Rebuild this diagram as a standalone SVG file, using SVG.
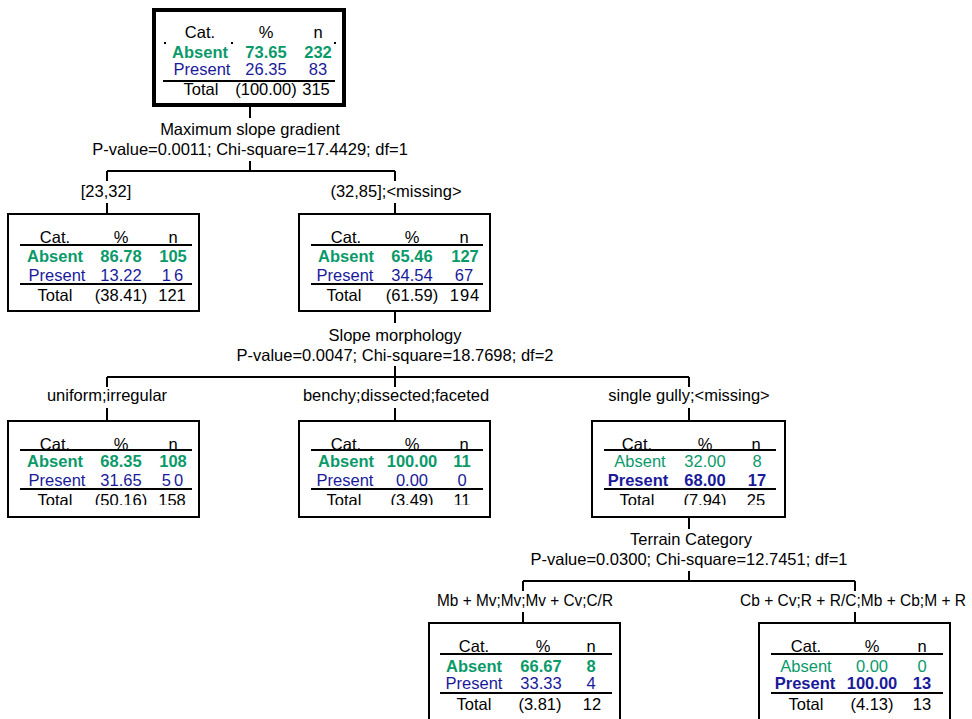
<svg xmlns="http://www.w3.org/2000/svg" width="972" height="719" viewBox="0 0 972 719">
<style>
text { font-family: "Liberation Sans", Arial, sans-serif; font-size: 16.5px; fill: #000; text-anchor: middle; }
.g { fill: #0a9a6a; }
.bl { fill: #1a1a9a; }
.bd { font-weight: bold; }
.box { fill: #fff; stroke: #000; stroke-width: 2; }
.root { fill: #fff; stroke: #000; stroke-width: 4; }
.rule { stroke: #000; stroke-width: 2; }
.conn path { stroke: #000; stroke-width: 2; fill: none; }
</style>
<defs>
<clipPath id="ch3"><rect x="0" y="400" width="972" height="50"/></clipPath>
<clipPath id="ct3"><rect x="0" y="480" width="972" height="25"/></clipPath>
</defs>
<rect width="972" height="719" fill="#fff"/>

<g id="connectors" class="conn">
<path d="M250,107 V118"/>
<path d="M250,161 V171 M107,171 H395 M107,171 V181 M395,171 V181 M107,203 V214 M395,203 V214"/>
<path d="M395,312 V323"/>
<path d="M395,366 V377 M107,377 H689 M107,377 V387 M395,377 V387 M689,377 V387 M107,408 V421 M395,408 V421 M689,408 V421"/>
<path d="M689,518 V529"/>
<path d="M689,571 V581 M523,581 H855 M523,581 V591 M855,581 V591 M523,612 V623 M855,612 V623"/>
</g>

<g id="labels">
<text x="250" y="135">Maximum slope gradient</text>
<text x="250" y="155">P-value=0.0011; Chi-square=17.4429; df=1</text>
<text x="106" y="197">[23,32]</text>
<text x="396" y="197">(32,85];&lt;missing&gt;</text>
<text x="395" y="341">Slope morphology</text>
<text x="395" y="361">P-value=0.0047; Chi-square=18.7698; df=2</text>
<text x="107" y="401">uniform;irregular</text>
<text x="396" y="401">benchy;dissected;faceted</text>
<text x="689" y="401">single gully;&lt;missing&gt;</text>
<text x="691" y="545">Terrain Category</text>
<text x="689" y="565">P-value=0.0300; Chi-square=12.7451; df=1</text>
<text x="525" y="606" textLength="176" lengthAdjust="spacingAndGlyphs">Mb + Mv;Mv;Mv + Cv;C/R</text>
<text x="853" y="606" textLength="226" lengthAdjust="spacingAndGlyphs">Cb + Cv;R + R/C;Mb + Cb;M + R</text>
</g>

<g id="node0">
<rect class="root" x="154" y="10" width="190" height="95"/>
<text x="200" y="38">Cat.</text><text x="266" y="38">%</text><text x="318" y="38">n</text>
<rect x="164" y="42" width="2" height="2"/><rect x="231" y="42" width="2" height="2"/><rect x="334" y="42" width="2" height="2"/>
<text class="g bd" x="200" y="58">Absent</text><text class="g bd" x="266" y="58">73.65</text><text class="g bd" x="318" y="58">232</text>
<text class="bl" x="202" y="75">Present</text><text class="bl" x="266" y="75">26.35</text><text class="bl" x="318" y="75">83</text>
<line class="rule" x1="163" y1="81" x2="335" y2="81"/>
<text x="201" y="95">Total</text><text x="266" y="95">(100.00)</text><text x="316" y="95">315</text>
</g>

<g id="node1">
<rect class="box" x="8" y="214" width="191" height="97"/>
<text x="55" y="243">Cat.</text><text x="121" y="243">%</text><text x="173" y="243">n</text>
<line class="rule" x1="20" y1="245" x2="192" y2="245"/>
<text class="g bd" x="55" y="262">Absent</text><text class="g bd" x="121" y="262">86.78</text><text class="g bd" x="173" y="262">105</text>
<text class="bl" x="57" y="281">Present</text><text class="bl" x="121" y="281">13.22</text><text class="bl" x="174" y="281" letter-spacing="3">16</text>
<line class="rule" x1="20" y1="284" x2="192" y2="284"/>
<text x="55" y="301">Total</text><text x="121" y="301">(38.41)</text><text x="172" y="301">121</text>
</g>

<g id="node2">
<rect class="box" x="299" y="214" width="191" height="97"/>
<text x="346" y="243">Cat.</text><text x="412" y="243">%</text><text x="464" y="243">n</text>
<line class="rule" x1="311" y1="245" x2="483" y2="245"/>
<text class="g bd" x="346" y="262">Absent</text><text class="g bd" x="412" y="262">65.46</text><text class="g bd" x="465" y="262">127</text>
<text class="bl" x="345" y="281">Present</text><text class="bl" x="412" y="281">34.54</text><text class="bl" x="464" y="281">67</text>
<line class="rule" x1="311" y1="284" x2="483" y2="284"/>
<text x="344" y="301">Total</text><text x="412" y="301">(61.59)</text><text x="465" y="301" letter-spacing="1">194</text>
</g>

<g id="node3">
<rect class="box" x="8" y="421" width="191" height="96"/>
<g clip-path="url(#ch3)"><text x="55" y="450">Cat.</text><text x="121" y="450">%</text><text x="173" y="450">n</text></g>
<line class="rule" x1="20" y1="450" x2="192" y2="450"/>
<text class="g bd" x="55" y="467">Absent</text><text class="g bd" x="121" y="467">68.35</text><text class="g bd" x="173" y="467">108</text>
<text class="bl" x="57" y="486">Present</text><text class="bl" x="121" y="486">31.65</text><text class="bl" x="174" y="486" letter-spacing="3">50</text>
<line class="rule" x1="20" y1="489" x2="192" y2="489"/>
<g clip-path="url(#ct3)"><text x="55" y="506">Total</text><text x="121" y="506">(50.16)</text><text x="172" y="506">158</text></g>
</g>

<g id="node4">
<rect class="box" x="299" y="421" width="191" height="96"/>
<g clip-path="url(#ch3)"><text x="346" y="450">Cat.</text><text x="412" y="450">%</text><text x="464" y="450">n</text></g>
<line class="rule" x1="311" y1="450" x2="483" y2="450"/>
<text class="g bd" x="346" y="467">Absent</text><text class="g bd" x="412" y="467">100.00</text><text class="g bd" x="462" y="467">11</text>
<text class="bl" x="345" y="486">Present</text><text class="bl" x="412" y="486">0.00</text><text class="bl" x="462" y="486">0</text>
<line class="rule" x1="311" y1="489" x2="483" y2="489"/>
<g clip-path="url(#ct3)"><text x="344" y="506">Total</text><text x="412" y="506">(3.49)</text><text x="462" y="506">11</text></g>
</g>

<g id="node5">
<rect class="box" x="592" y="421" width="193" height="96"/>
<g clip-path="url(#ch3)"><text x="637" y="450">Cat.</text><text x="705" y="450">%</text><text x="756" y="450">n</text></g>
<line class="rule" x1="604" y1="450" x2="776" y2="450"/>
<text class="g" x="640" y="467">Absent</text><text class="g" x="705" y="467">32.00</text><text class="g" x="757" y="467">8</text>
<text class="bl bd" x="638" y="486">Present</text><text class="bl bd" x="705" y="486">68.00</text><text class="bl bd" x="757" y="486">17</text>
<line class="rule" x1="604" y1="489" x2="776" y2="489"/>
<g clip-path="url(#ct3)"><text x="637" y="506">Total</text><text x="705" y="506">(7.94)</text><text x="756" y="506">25</text></g>
</g>

<g id="node6">
<rect class="box" x="429" y="623" width="191" height="98"/>
<text x="474" y="652">Cat.</text><text x="543" y="652">%</text><text x="591" y="652">n</text>
<line class="rule" x1="440" y1="654" x2="612" y2="654"/>
<text class="g bd" x="474" y="672">Absent</text><text class="g bd" x="541" y="672">66.67</text><text class="g bd" x="591" y="672">8</text>
<text class="bl" x="474" y="689">Present</text><text class="bl" x="541" y="689">33.33</text><text class="bl" x="591" y="689">4</text>
<line class="rule" x1="440" y1="693" x2="612" y2="693"/>
<text x="474" y="710">Total</text><text x="540" y="710">(3.81)</text><text x="592" y="710">12</text>
</g>

<g id="node7">
<rect class="box" x="759" y="623" width="191" height="98"/>
<text x="806" y="652">Cat.</text><text x="872" y="652">%</text><text x="922" y="652">n</text>
<line class="rule" x1="771" y1="654" x2="943" y2="654"/>
<text class="g" x="806" y="672">Absent</text><text class="g" x="872" y="672">0.00</text><text class="g" x="922" y="672">0</text>
<text class="bl bd" x="805" y="689">Present</text><text class="bl bd" x="872" y="689">100.00</text><text class="bl bd" x="922" y="689">13</text>
<line class="rule" x1="771" y1="693" x2="943" y2="693"/>
<text x="806" y="710">Total</text><text x="872" y="710">(4.13)</text><text x="922" y="710">13</text>
</g>
</svg>
